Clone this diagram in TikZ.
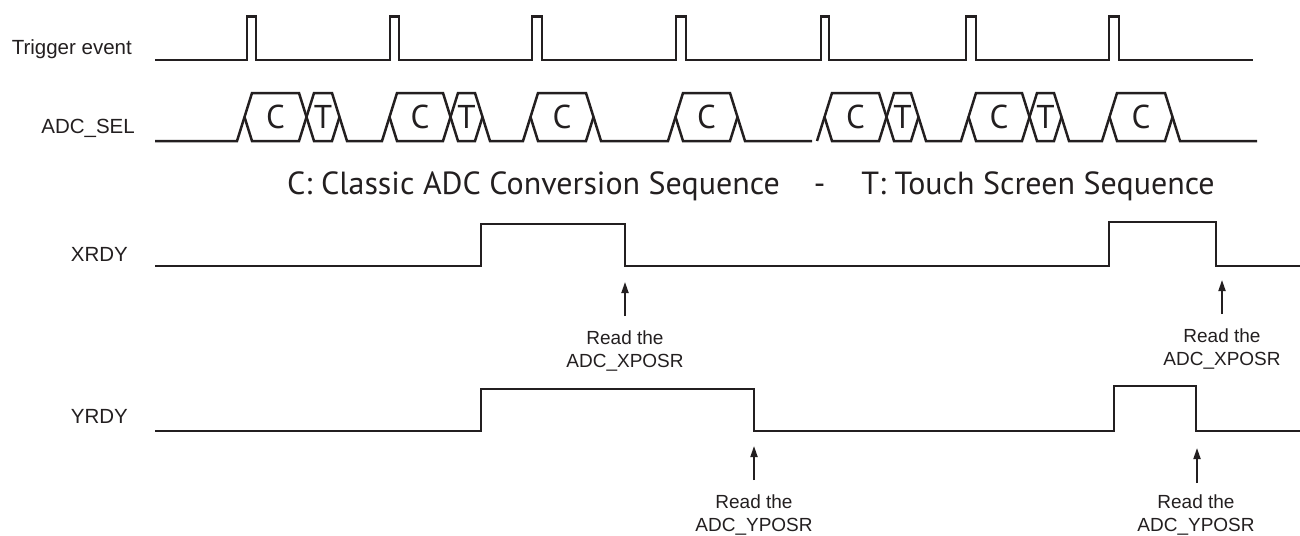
\documentclass[tikz,border=0pt]{standalone}
\usepackage{fontspec}
\setmainfont{Liberation Sans}
\newfontfamily\capfont{PT Sans}
\usetikzlibrary{arrows.meta,calc}
\definecolor{ink}{HTML}{231F20}
\begin{document}
\begin{tikzpicture}[x=1pt,y=-1pt,
  wave/.style={draw=ink,line width=2.5pt},
  lbl/.style={font=\fontsize{20.5}{24}\selectfont,text=ink,inner sep=0pt,anchor=base east},
  hexlbl/.style={font=\capfont\fontsize{33}{33}\selectfont,text=ink,inner sep=0pt},
  captxt/.style={font=\capfont\fontsize{32}{32}\selectfont,text=ink,inner sep=0pt,anchor=base west},
  readtxt/.style={font=\fontsize{19}{23}\selectfont,text=ink,align=center,inner sep=0pt,anchor=north},
  arr/.style={draw=ink,line width=1.8pt,-{Triangle[length=11pt,width=7pt]}}]
\useasboundingbox (0,0) rectangle (1300,535);
% labels
\node[lbl] (ltrig) at (132,55) {Trigger event};
\node[lbl] (lsel) at (135,133) {ADC\_SEL};
\node[lbl] (lx) at (128,261) {XRDY};
\node[lbl] (ly) at (128,423) {YRDY};
% trigger
\draw[wave] (155,60) foreach \a/\b in {247/256,390/399,532/542,676/686,821/829,966/976,1109/1119}
  { -- (\a,60) -- (\a,16.5) -- (\b,16.5) -- (\b,60) } -- (1253,60);
% ADC_SEL hexagons
\foreach \a/\b/\t [count=\i] in {252/299/C,314/332/T,397/443/C,458/475/T,538/586/C,683/730/C,832/879/C,894/911/T,976/1022/C,1037/1054/T,1117/1165/C}{
  \draw[wave] ({\a-7.5},117) -- (\a,93) -- (\b,93) -- ({\b+7.5},117) -- (\b,141) -- (\a,141) -- cycle;
  \node[hexlbl] (hx\i) at ({(\a+\b)/2},117) {\t};
}
\draw[wave] (155,141) -- (237,141) -- (244.5,117);
\draw[wave] (339.5,117) -- (347,141) -- (382,141) -- (389.5,117);
\draw[wave] (482.5,117) -- (490,141) -- (523,141) -- (530.5,117);
\draw[wave] (593.5,117) -- (601,141) -- (668,141) -- (675.5,117);
\draw[wave] (737.5,117) -- (745,141) -- (812,141);
\draw[wave] (817,141) -- (824.5,117);
\draw[wave] (918.5,117) -- (926,141) -- (961,141) -- (968.5,117);
\draw[wave] (1061.5,117) -- (1069,141) -- (1102,141) -- (1109.5,117);
\draw[wave] (1172.5,117) -- (1180,141) -- (1257,141);
% caption
\node[captxt] (cap) at (287,194) {C: Classic ADC Conversion Sequence\hspace{34pt}-\hspace{36pt}T: Touch Screen Sequence};
% XRDY
\draw[wave] (155,266) -- (481,266) -- (481,224) -- (625,224) -- (625,266) -- (1109,266) -- (1109,222) -- (1216,222) -- (1216,266) -- (1300,266);
% YRDY
\draw[wave] (155,431) -- (481,431) -- (481,389) -- (754,389) -- (754,431) -- (1114,431) -- (1114,386) -- (1196,386) -- (1196,431) -- (1300,431);
% read annotations
\coordinate (xt1) at (625,282);
\coordinate (xt2) at (1222,280);
\coordinate (yt1) at (754,446);
\coordinate (yt2) at (1197,448);
\node[readtxt] (rx1) at (625,331) {Read the\\ADC\_XPOSR};
\node[readtxt] (rx2) at (1222,329) {Read the\\ADC\_XPOSR};
\node[readtxt] (ry1) at (754,495) {Read the\\ADC\_YPOSR};
\node[readtxt] (ry2) at (1196,495) {Read the\\ADC\_YPOSR};
\draw[arr] ($(xt1 |- rx1.north)+(0,-15)$) -- (xt1);
\draw[arr] ($(xt2 |- rx2.north)+(0,-15)$) -- (xt2);
\draw[arr] ($(yt1 |- ry1.north)+(0,-15)$) -- (yt1);
\draw[arr] ($(yt2 |- ry2.north)+(0,-12)$) -- (yt2);
\end{tikzpicture}
\end{document}
